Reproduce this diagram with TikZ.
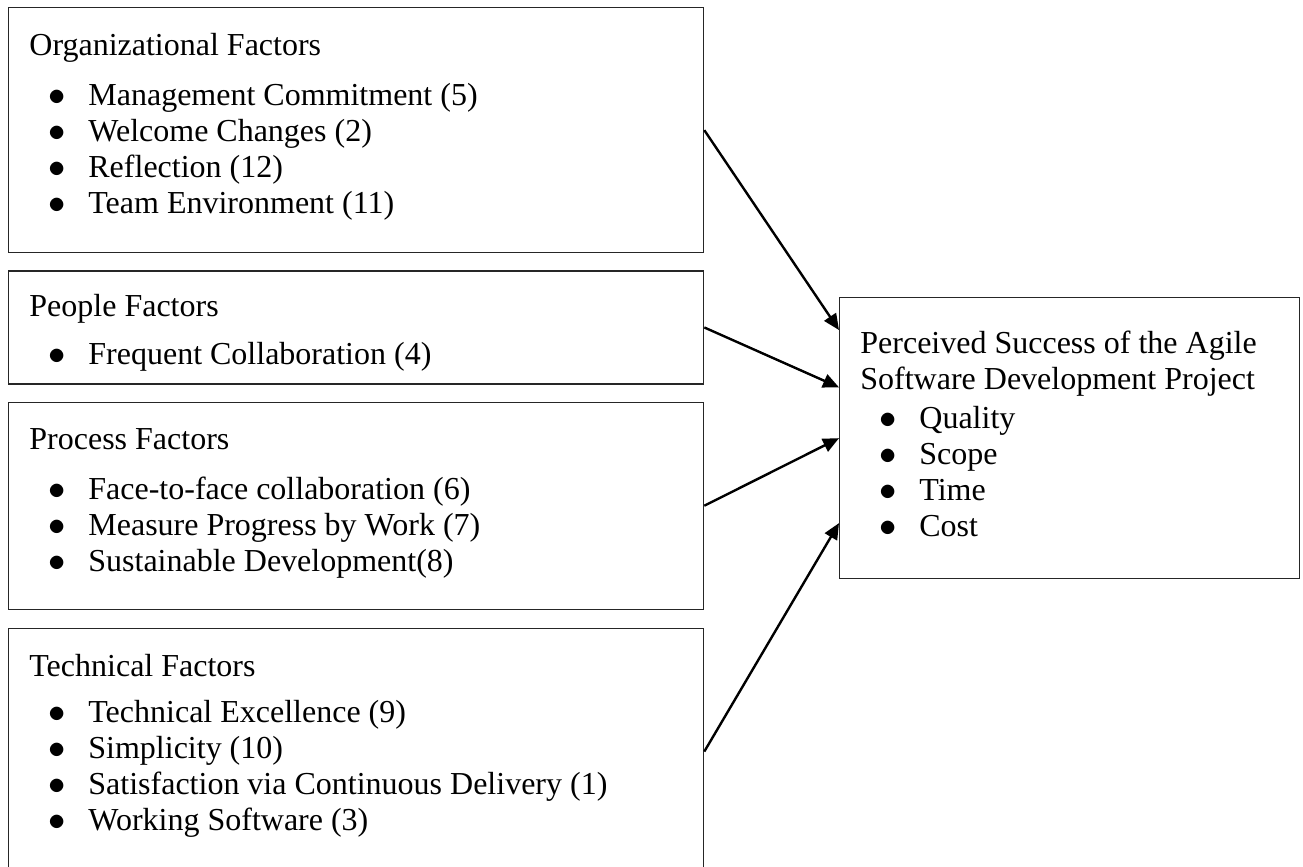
\documentclass[tikz,border=0pt]{standalone}
\usepackage{fontspec}
\setmainfont{Liberation Serif}
\usetikzlibrary{arrows.meta,positioning,calc}
\newcommand{\itembullet}{\hspace*{9.6pt}\makebox[19.9pt][l]{$\bullet$}}
\tikzset{factor box/.style={draw=black!85, line width=0.65pt, minimum width=347.5pt, inner sep=0pt},
factor text/.style={align=left, inner sep=0pt, font=\fontsize{16}{18}\selectfont},
influence/.style={-{Triangle[length=8pt,width=7pt]}, line width=1.2pt}}

\begin{document}
\begin{tikzpicture}[x=0.5pt, y=-0.5pt]
        \useasboundingbox (0,0) rectangle (1303,867);
        \clip (0,0) rectangle (1303,867);

        % factor boxes
        \node[factor box, minimum height=122.5pt, anchor=north west] (org) at (8,7) {};
        \node[factor box, minimum height=56.5pt, below right=8.5pt and 0pt of org.south west] (people) {};
        \node[factor box, minimum height=103.5pt, below right=8.5pt and 0pt of people.south west] (process) {};
        \node[factor box, minimum height=123pt, below right=9pt and 0pt of process.south west] (tech) {};
        \node[factor box, minimum width=230pt, minimum height=140.5pt, anchor=north west] (goal) at (839,297) {};

        \node[factor text, below right=11.4pt and 10.5pt of org.north west] (orgT)
            {\strut Organizational Factors\\[7pt]
             \itembullet Management Commitment (5)\\
             \itembullet Welcome Changes (2)\\
             \itembullet Reflection (12)\\
             \itembullet Team Environment (11)};
        \node[factor text, below right=10.4pt and 10.5pt of people.north west] (peopleT)
            {\strut People Factors\\[6pt]
             \itembullet Frequent Collaboration (4)};
        \node[factor text, below right=11.25pt and 10.5pt of process.north west] (processT)
            {\strut Process Factors\\[7pt]
             \itembullet Face-to-face collaboration (6)\\
             \itembullet Measure Progress by Work (7)\\
             \itembullet Sustainable Development(8)};
        \node[factor text, below right=11.25pt and 10.5pt of tech.north west] (techT)
            {\strut Technical Factors\\[5pt]
             \itembullet Technical Excellence (9)\\
             \itembullet Simplicity (10)\\
             \itembullet Satisfaction via Continuous Delivery (1)\\
             \itembullet Working Software (3)};
        \node[factor text, below right=15.4pt and 10.5pt of goal.north west] (goalT)
            {\strut Perceived Success of the Agile\\
             Software Development Project\\[1.5pt]
             \itembullet Quality\\
             \itembullet Scope\\
             \itembullet Time\\
             \itembullet Cost};

        \draw[influence] (org.east) -- ($(goal.north west)!0.117!(goal.south west)$);
        \draw[influence] (people.east) -- ($(goal.north west)!0.32!(goal.south west)$);
        \draw[influence] (process.east) -- (goal.west);
        \draw[influence] (tech.east) -- ($(goal.north west)!0.801!(goal.south west)$);
\end{tikzpicture}
\end{document}
